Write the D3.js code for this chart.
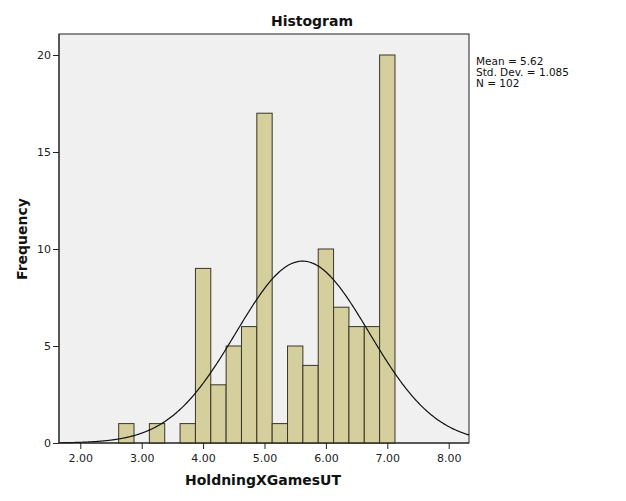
<!DOCTYPE html>
<html>
<head>
<meta charset="utf-8">
<script src="https://cdn.jsdelivr.net/npm/d3@7/dist/d3.min.js"></script>
<style>
body{margin:0;background:#fff;}
svg{display:block;}
text{font-family:"DejaVu Sans",sans-serif;}
</style>
</head>
<body>
<svg id="chart" width="626" height="501"></svg>
<script>
// bin centers (width 0.25) and frequencies
const binCenters = [2.75, 3.00, 3.25, 3.50, 3.75, 4.00, 4.25, 4.50, 4.75, 5.00, 5.25, 5.50, 5.75, 6.00, 6.25, 6.50, 6.75, 7.00];
const frequencies = [1, 0, 1, 0, 1, 9, 3, 5, 6, 17, 1, 5, 4, 10, 7, 6, 6, 20];
const binWidth = 0.25;
const xTicks = [2, 3, 4, 5, 6, 7, 8];
const yTicks = [0, 5, 10, 15, 20];
const statsMean = 5.62, statsSD = 1.085, statsN = 102;
const statLines = ["Mean = 5.62", "Std. Dev. = 1.085", "N = 102"];

const svg = d3.select("#chart");
const L = 59, R = 469, T = 34, B = 443;

const x = d3.scaleLinear().domain([2, 8]).range([80.3, 448.7]);
const y = d3.scaleLinear().domain([0, 20]).range([443, 55]);

// plot background
svg.append("rect").attr("x", L).attr("y", T).attr("width", R - L).attr("height", B - T)
  .attr("fill", "#f0f0f0").attr("stroke", "#222").attr("stroke-width", 1);

// bars
svg.append("g").selectAll("rect").data(binCenters.map((c, i) => ({c, f: frequencies[i]})).filter(d => d.f > 0))
  .join("rect")
  .attr("x", d => x(d.c - binWidth / 2))
  .attr("y", d => y(d.f))
  .attr("width", d => x(d.c + binWidth / 2) - x(d.c - binWidth / 2))
  .attr("height", d => y(0) - y(d.f))
  .attr("fill", "#d4cf9c")
  .attr("stroke", "#3a3626")
  .attr("stroke-width", 1);

// normal curve
const xs = d3.range(0, 401).map(i => x.invert(L) + (x.invert(R) - x.invert(L)) * i / 400);
const dens = v => statsN * binWidth / (statsSD * Math.sqrt(2 * Math.PI)) * Math.exp(-0.5 * Math.pow((v - statsMean) / statsSD, 2));
svg.append("path")
  .datum(xs)
  .attr("d", d3.line().x(v => x(v)).y(v => y(dens(v))).curve(d3.curveBasis))
  .attr("fill", "none").attr("stroke", "#111").attr("stroke-width", 1.2);

// axes
const xAxis = svg.append("g").attr("transform", `translate(0,${B})`)
  .call(d3.axisBottom(x).tickValues(xTicks).tickFormat(d3.format(".2f")).tickSize(6).tickSizeOuter(0));
xAxis.select(".domain").attr("d", `M${L},0H${R}`).attr("stroke", "#222");
xAxis.selectAll("text").attr("font-size", 11).attr("fill", "#222").attr("dy", "0.9em");
xAxis.selectAll("line").attr("stroke", "#222");

const yAxis = svg.append("g").attr("transform", `translate(${L},0)`)
  .call(d3.axisLeft(y).tickValues(yTicks).tickSize(6).tickSizeOuter(0));
yAxis.select(".domain").attr("d", `M0,${T}V${B}`).attr("stroke", "#222");
yAxis.selectAll("text").attr("font-size", 11).attr("fill", "#222").attr("dx", "0.1em");
yAxis.selectAll("line").attr("stroke", "#222");

// titles
svg.append("text").attr("x", 312).attr("y", 26).attr("text-anchor", "middle")
  .attr("font-size", 14).attr("font-weight", "bold").attr("fill", "#111").text("Histogram");
svg.append("text").attr("x", 263).attr("y", 485).attr("text-anchor", "middle")
  .attr("font-size", 14).attr("font-weight", "bold").attr("fill", "#111").text("HoldningXGamesUT");
svg.append("text").attr("transform", "translate(27,239) rotate(-90)").attr("text-anchor", "middle")
  .attr("font-size", 14).attr("font-weight", "bold").attr("fill", "#111").text("Frequency");

// stats
svg.append("g").selectAll("text").data(statLines).join("text")
  .attr("x", 476).attr("y", (d, i) => 65 + i * 11)
  .attr("font-size", 10.5).attr("fill", "#111").text(d => d);
</script>
</body>
</html>
